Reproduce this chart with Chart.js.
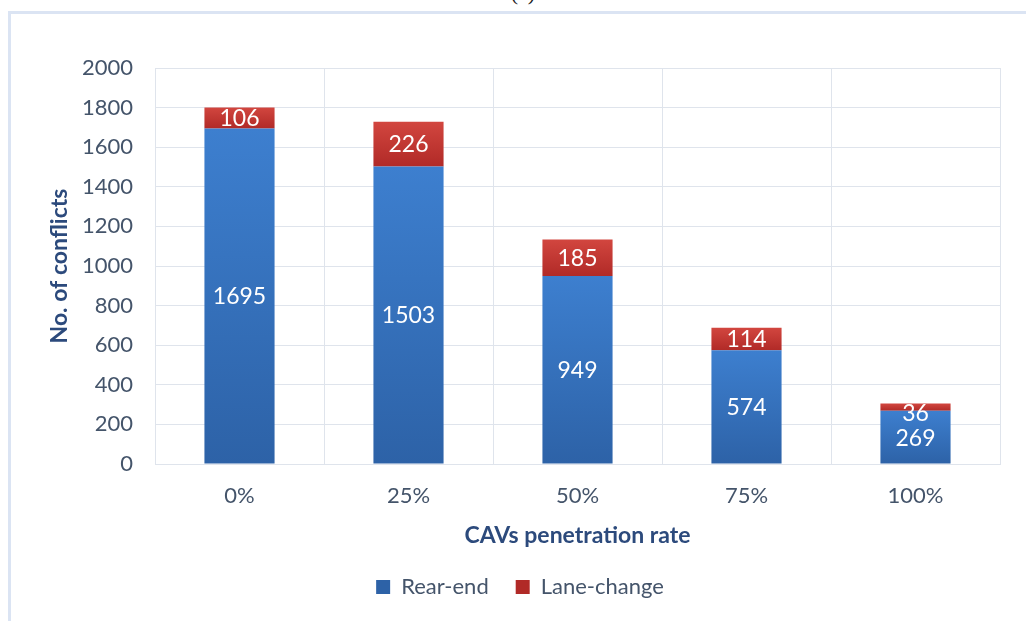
<!DOCTYPE html>
<html>
<head>
<meta charset="utf-8">
<title>Conflicts by CAV penetration rate</title>
<script src="https://cdn.jsdelivr.net/npm/chart.js@4.4.1/dist/chart.umd.min.js"></script>
<style>
  html, body { margin: 0; padding: 0; background: #fff; }
  #wrap { position: relative; width: 1026px; height: 621px; overflow: hidden; }
  #frame { position: absolute; left: 8px; top: 11px; width: 1100px; height: 700px;
           border-left: 3px solid #dbe4f3; border-top: 3px solid #dbe4f3; }
  #tag { position: absolute; left: 0; width: 1046px; top: -20px; text-align: center;
         font: 22px "Liberation Serif", serif; color: #222; }
  canvas { position: absolute; left: 0; top: 0; }
</style>
</head>
<body>
<div id="wrap">
  <div id="frame"></div>
  <div id="tag">(a)</div>
  <canvas id="chart" width="1026" height="621"></canvas>
</div>
<script>
// CAV penetration levels and conflict counts per type
const rates = ['0%', '25%', '50%', '75%', '100%'];
const rearEnd = [1695, 1503, 949, 574, 269];
const laneChange = [106, 226, 185, 114, 36];
const yTicks = [0, 200, 400, 600, 800, 1000, 1200, 1400, 1600, 1800, 2000];

const FONT = 'Lato, "Open Sans", sans-serif';
const TICK_COLOR = '#44546a';
const TITLE_COLOR = '#2c4a7c';

// vertical gradient spanning one bar segment
function segmentFill(ctx, light, dark) {
  const chart = ctx.chart;
  const y = chart.scales.y;
  if (!y || ctx.type !== 'data') return dark;
  const i = ctx.dataIndex;
  let lo = 0, hi = 0;
  if (ctx.datasetIndex === 0) { hi = rearEnd[i]; }
  else { lo = rearEnd[i]; hi = rearEnd[i] + laneChange[i]; }
  const top = y.getPixelForValue(hi), bottom = y.getPixelForValue(lo);
  if (!isFinite(top) || !isFinite(bottom) || top === bottom) return dark;
  const g = chart.ctx.createLinearGradient(0, top, 0, bottom);
  g.addColorStop(0, light);
  g.addColorStop(1, dark);
  return g;
}

// value labels centred in each segment, kept inside the bar top
const segmentLabels = {
  id: 'segmentLabels',
  afterDatasetsDraw(chart) {
    const c = chart.ctx;
    c.save();
    c.font = '23px ' + FONT;
    c.fillStyle = '#ffffff';
    c.textAlign = 'center';
    c.textBaseline = 'middle';
    chart.data.datasets.forEach((ds, di) => {
      chart.getDatasetMeta(di).data.forEach((bar, i) => {
        const y = Math.max((bar.y + bar.base) / 2 + 1, bar.y + 10);
        c.fillText(String(ds.data[i]), bar.x, y);
      });
    });
    c.restore();
  }
};

new Chart(document.getElementById('chart'), {
  type: 'bar',
  data: {
    labels: rates,
    datasets: [
      { label: 'Rear-end', data: rearEnd,
        backgroundColor: ctx => segmentFill(ctx, '#3d7fcf', '#2d62a7') },
      { label: 'Lane-change', data: laneChange,
        backgroundColor: ctx => segmentFill(ctx, '#d2463f', '#b12a27') }
    ]
  },
  options: {
    responsive: false,
    animation: false,
    devicePixelRatio: 1,
    barPercentage: 0.83,
    categoryPercentage: 0.5,
    layout: { padding: { left: 40, right: 26, top: 68, bottom: 13 } },
    plugins: {
      tooltip: { enabled: false },
      legend: {
        position: 'bottom',
        labels: {
          boxWidth: 14, boxHeight: 14, padding: 27,
          color: TICK_COLOR,
          font: { family: FONT, size: 22 }
        }
      }
    },
    scales: {
      x: {
        stacked: true,
        afterFit: s => { s.height = 85; },
        grid: { color: '#dfe4ec', drawTicks: false },
        border: { color: '#dfe4ec' },
        ticks: { color: TICK_COLOR, padding: 19, font: { family: FONT, size: 22 } },
        title: {
          display: true, text: 'CAVs penetration rate', color: TITLE_COLOR,
          padding: { top: 0, bottom: 0 },
          font: { family: FONT, size: 23, weight: 'bold' }
        }
      },
      y: {
        stacked: true,
        min: 0, max: 2000,
        afterBuildTicks: s => { s.ticks = yTicks.map(v => ({ value: v })); },
        afterFit: s => { s.width = 115; },
        grid: { color: '#dfe4ec', drawTicks: false },
        border: { color: '#dfe4ec' },
        ticks: {
          color: TICK_COLOR, padding: 22, font: { family: FONT, size: 22 },
          callback: v => String(v)
        },
        title: {
          display: true, text: 'No. of conflicts', color: TITLE_COLOR,
          padding: { top: 6, bottom: 0 },
          font: { family: FONT, size: 23, weight: 'bold' }
        }
      }
    }
  },
  plugins: [segmentLabels]
});
</script>
</body>
</html>
